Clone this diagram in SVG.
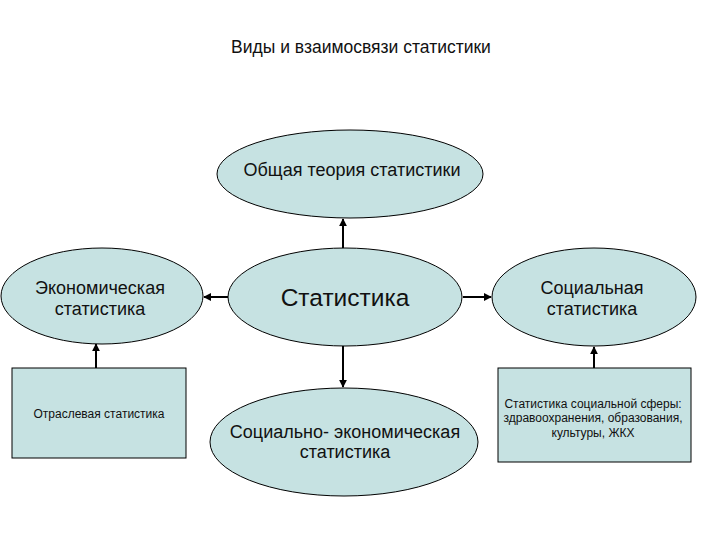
<svg xmlns="http://www.w3.org/2000/svg" width="720" height="540" viewBox="0 0 720 540">
<style>
.n{fill:#c6e2e2;stroke:#000;stroke-width:1}
.t{font-family:"Liberation Sans",Arial,sans-serif;fill:#111;text-anchor:middle}
.e{font-size:18px}
.b{font-size:12px}
.c{stroke:#000;stroke-width:2;fill:none;marker-end:url(#a)}
</style>
<defs>
<marker id="a" viewBox="0 0 10 10" refX="9" refY="5" markerWidth="4" markerHeight="4" orient="auto" markerUnits="strokeWidth">
<path d="M0,0 L10,5 L0,10 z" fill="#000"/>
</marker>
</defs>
<rect width="720" height="540" fill="#fff"/>
<text class="t" x="361" y="53" font-size="17.5">Виды и взаимосвязи статистики</text>
<g id="connectors">
<line class="c" x1="343" y1="248" x2="343" y2="219"/>
<line class="c" x1="228" y1="297" x2="204" y2="297"/>
<line class="c" x1="463" y1="297" x2="491" y2="297"/>
<line class="c" x1="343" y1="346" x2="343" y2="387"/>
<line class="c" x1="96" y1="368" x2="96" y2="344"/>
<line class="c" x1="594" y1="368" x2="594" y2="347"/>
</g>
<g id="obshaya">
<ellipse class="n" cx="350" cy="174" rx="133" ry="44"/>
<text class="t e" x="352" y="176">Общая теория статистики</text>
</g>
<g id="statistika">
<ellipse class="n" cx="345" cy="297" rx="117" ry="49"/>
<text class="t" x="345" y="306" font-size="24.5">Статистика</text>
</g>
<g id="ekonom">
<ellipse class="n" cx="102" cy="296" rx="101" ry="48"/>
<text class="t e" x="100" y="294">Экономическая</text>
<text class="t e" x="100" y="315">статистика</text>
</g>
<g id="social">
<ellipse class="n" cx="594" cy="297" rx="102" ry="49"/>
<text class="t e" x="592" y="294">Социальная</text>
<text class="t e" x="592" y="315">статистика</text>
</g>
<g id="socek">
<ellipse class="n" cx="344" cy="442" rx="134" ry="54"/>
<text class="t e" x="345" y="438">Социально- экономическая</text>
<text class="t e" x="345" y="458">статистика</text>
</g>
<g id="otrasl">
<rect class="n" x="12" y="368" width="174" height="90"/>
<text class="t b" x="99" y="418">Отраслевая статистика</text>
</g>
<g id="socsfera">
<rect class="n" x="498" y="368" width="193" height="94"/>
<text class="t b" x="593" y="408">Статистика социальной сферы:</text>
<text class="t b" x="593" y="422">здравоохранения, образования,</text>
<text class="t b" x="593" y="437">культуры, ЖКХ</text>
</g>
</svg>
